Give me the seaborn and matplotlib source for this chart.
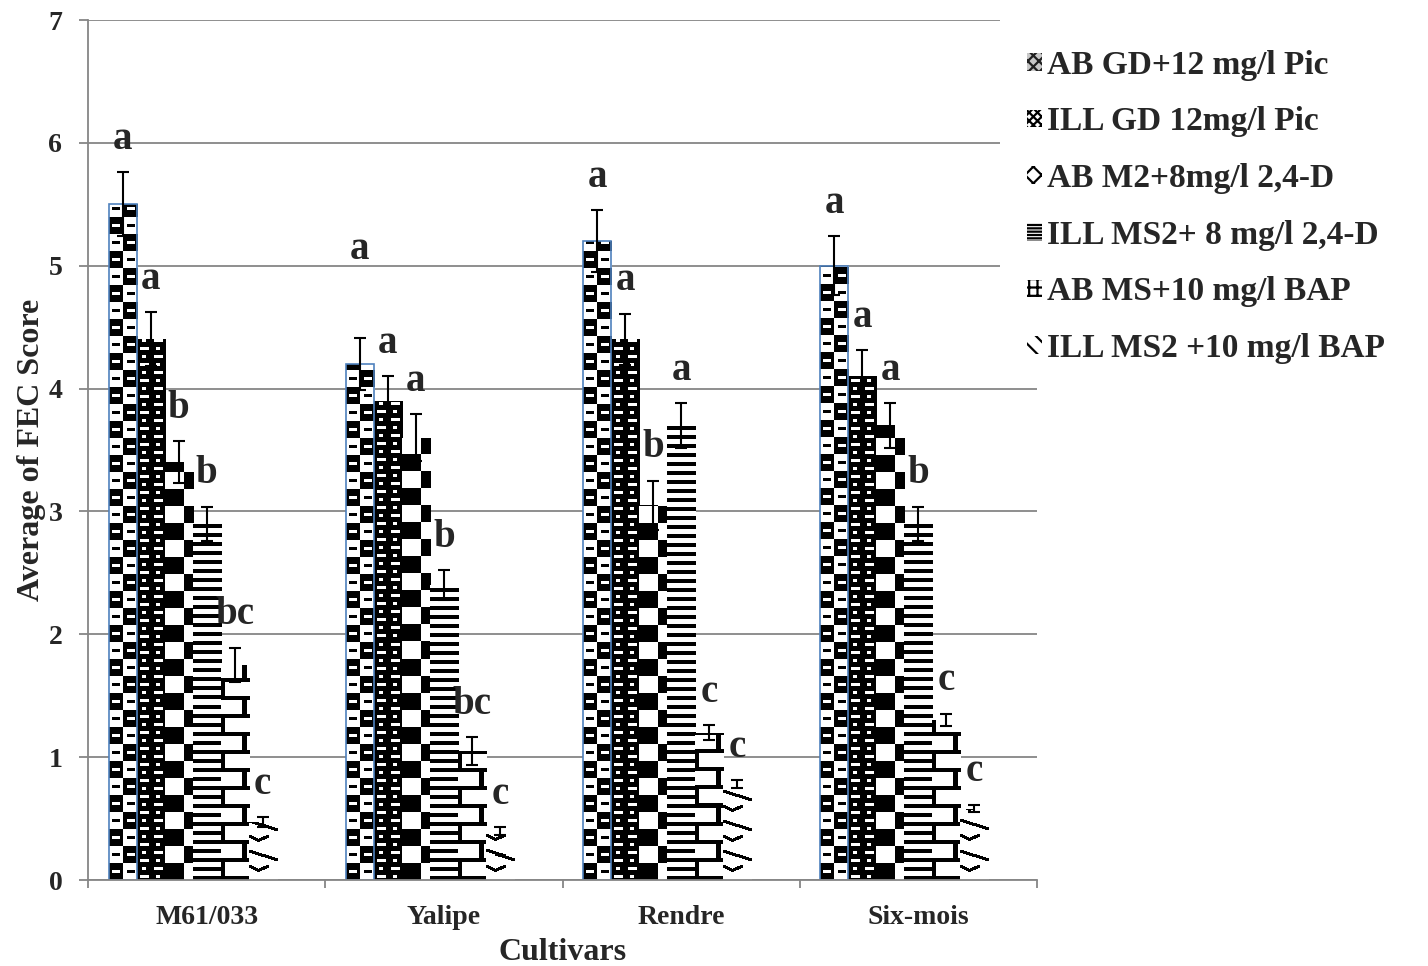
import numpy as np
import pandas as pd
import matplotlib
matplotlib.use("Agg")
import matplotlib.pyplot as plt
import seaborn as sns
from matplotlib.patches import Patch, Rectangle

# data
cultivars = ["M61/033", "Yalipe", "Rendre", "Six-mois"]
treatments = ["AB GD+12 mg/l Pic", "ILL GD 12mg/l Pic", "AB M2+8mg/l 2,4-D",
              "ILL MS2+ 8 mg/l 2,4-D", "AB MS+10 mg/l BAP", "ILL MS2 +10 mg/l BAP"]

s1 = [5.5, 4.2, 5.2, 5.0]
s2 = [4.4, 3.9, 4.4, 4.1]
s3 = [3.4, 3.6, 3.05, 3.7]
s4 = [2.9, 2.4, 3.7, 2.9]
s5 = [1.75, 1.05, 1.2, 1.3]
s6 = [0.47, 0.4, 0.78, 0.58]

e1 = [0.26, 0.21, 0.25, 0.24]
e2 = [0.22, 0.2, 0.21, 0.21]
e3 = [0.17, 0.19, 0.2, 0.18]
e4 = [0.14, 0.12, 0.18, 0.14]
e5 = [0.14, 0.11, 0.06, 0.05]
e6 = [0.04, 0.03, 0.03, 0.03]

l1 = ["a", "a", "a", "a"]
l2 = ["a", "a", "a", "a"]
l3 = ["b", "a", "b", "a"]
l4 = ["b", "b", "a", "b"]
l5 = ["bc", "bc", "c", "c"]
l6 = ["c", "c", "c", "c"]

values = [s1, s2, s3, s4, s5, s6]
errors = [e1, e2, e3, e4, e5, e6]
letters = [l1, l2, l3, l4, l5, l6]

rows = []
for t, vals in zip(treatments, values):
    for c, v in zip(cultivars, vals):
        rows.append({"Cultivar": c, "Treatment": t, "Score": v})
df = pd.DataFrame(rows)


# black/white fill textures (1 = black), one cell ~ one pixel
def checker(cw, ch, dash=False):
    t = np.zeros((2 * ch, 2 * cw))
    t[:ch, :cw] = 1
    t[ch:, cw:] = 1
    if dash:
        t[ch // 2 - 1:ch // 2 + 2, 3:cw - 3] = 0
        t[ch + ch // 2 - 1:ch + ch // 2 + 2, cw + 3:2 * cw - 3] = 0
        t[ch // 2 - 1:ch // 2 + 2, cw + 3:2 * cw - 3] = 1
        t[ch + ch // 2 - 1:ch + ch // 2 + 2, 3:cw - 3] = 1
    return t


def small_check():
    t = np.ones((16, 28))
    t[2:5, 3:12] = 0
    t[10:13, 16:25] = 0
    t[2:5, 18:22] = 0
    t[10:13, 5:9] = 0
    return t


def lines():
    t = np.zeros((9, 28))
    t[0:4, :] = 1
    t[4:9, 0:2] = 0
    return t


def bricks():
    t = np.zeros((36, 28))
    t[0:4, :] = 1
    t[4:18, 0:4] = 1
    t[18:22, :] = 1
    t[22:36, 20:25] = 1
    return t


def zigzag():
    t = np.zeros((30, 28))
    for k in range(9):
        t[27 - k:30 - k, k * 3:k * 3 + 4] = 1
    for k in range(5):
        t[12 - k:15 - k, k * 2:k * 2 + 3] = 1
    for k in range(5):
        t[8 + k:11 + k, k * 2 + 8:k * 2 + 11] = 1
    return t


tiles = [checker(14, 17, dash=True), small_check(), checker(18, 17),
         lines(), bricks(), zigzag()]

sns.set_style("white")
plt.rcParams["font.family"] = ["Liberation Serif", "DejaVu Serif"]
plt.rcParams["font.weight"] = "bold"
plt.rcParams["hatch.linewidth"] = 1.6

fig = plt.figure(figsize=(14.28, 9.66), dpi=100)
ax = fig.add_axes([88 / 1428, 1 - 880 / 966, (1037 - 88) / 1428, (880 - 20) / 966])

sns.barplot(data=df, x="Cultivar", y="Score", hue="Treatment", order=cultivars,
            hue_order=treatments, width=0.709, errorbar=None, legend=False,
            palette=dict(zip(treatments, ["white"] * 6)), ax=ax)

ax.set_xlim(-0.5, 3.5)
ax.set_ylim(0, 7)

p0 = ax.transData.transform((0, 0))
p1 = ax.transData.transform((1, 1))
px_x = p1[0] - p0[0]
px_y = p1[1] - p0[1]

bar_groups = list(ax.containers)
for i, cont in enumerate(bar_groups):
    for bar in cont.patches:
        w, h = bar.get_width(), bar.get_height()
        j = int(round(bar.get_x() + w / 2))
        # the clusters sit half a bar left of the category centre
        bar.set_x(bar.get_x() - w / 2)
        x0 = bar.get_x()
        wpx = max(1, int(round(w * px_x)))
        hpx = max(1, int(round(h * px_y)))
        tl = tiles[i]
        reps = (hpx // tl.shape[0] + 2, wpx // tl.shape[1] + 2)
        img = np.tile(tl, reps)[:hpx, :wpx]
        im = ax.imshow(img, cmap="gray_r", vmin=0, vmax=1, origin="lower",
                       extent=(x0, x0 + w, 0, h), aspect="auto",
                       interpolation="nearest", zorder=1.5)
        im.set_clip_path(bar)
        bar.set_facecolor("none")
        bar.set_zorder(2)
        if i == 0:
            bar.set_edgecolor("#4F81BD")
            bar.set_linewidth(1.2)
        else:
            bar.set_edgecolor("none")
        err = errors[i][j]
        ax.errorbar(x0 + w / 2, h, yerr=err, fmt="none", ecolor="black",
                    elinewidth=1.5, capsize=4, capthick=1.5, zorder=3)
        lift = 0.72 if (i == 0 and j == 1) else 0.27
        ax.text(x0 + w / 2, h + err + lift, letters[i][j], ha="center",
                va="center", fontsize=28, fontweight="bold", zorder=4)

ax.set_xlim(-0.5, 3.5)
ax.set_ylim(0, 7)
ax.set_yticks(range(0, 8))

ax.yaxis.grid(True, color="#868686", lw=1.3)
ax.xaxis.grid(False)
ax.set_axisbelow(True)
for s in ["top", "right"]:
    ax.spines[s].set_visible(False)
for s in ["left", "bottom"]:
    ax.spines[s].set_color("#868686")
    ax.spines[s].set_linewidth(1.3)

ax.tick_params(axis="y", length=6.5, width=1.3, color="#868686", pad=12,
               labelsize=20, left=True)
ax.tick_params(axis="x", which="major", length=0, pad=18, labelsize=20)
ax.set_xticks([-0.5, 0.5, 1.5, 2.5, 3.5], minor=True)
ax.tick_params(axis="x", which="minor", length=6, width=1.3, color="#868686",
               bottom=True)
for lbl in ax.get_xticklabels() + ax.get_yticklabels():
    lbl.set_fontweight("bold")

ax.set_xlabel("Cultivars", fontsize=23, fontweight="bold", labelpad=6)
ax.set_ylabel("Average of FEC Score", fontsize=23, fontweight="bold", labelpad=1.5)

# white legend box over the upper right of the plot area
fig.add_artist(Rectangle((1000 / 1428, 1 - 375 / 966), 428 / 1428, 361 / 966,
                         transform=fig.transFigure, facecolor="white",
                         edgecolor="none", zorder=3))

handles = [
    Patch(facecolor="#c8c8c8", edgecolor="#202020", hatch="xxx", lw=0),
    Patch(facecolor="white", edgecolor="black", hatch="xxxx", lw=0),
    Patch(facecolor="white", edgecolor="black", hatch="xx", lw=0),
    Patch(facecolor="white", edgecolor="black", hatch="-----", lw=0),
    Patch(facecolor="white", edgecolor="black", hatch="++", lw=0),
    Patch(facecolor="white", edgecolor="black", hatch="\\\\", lw=0),
]
leg = fig.legend(handles, treatments, loc="upper left",
                 bbox_to_anchor=(1000 / 1428, 1 - 23 / 966), frameon=False,
                 handlelength=0.45, handleheight=0.45, handletextpad=0.15,
                 labelspacing=0.77, borderpad=0.8, borderaxespad=0,
                 prop={"weight": "bold", "size": 24})
leg.set_zorder(5)

fig.savefig("out.png", dpi=100)
